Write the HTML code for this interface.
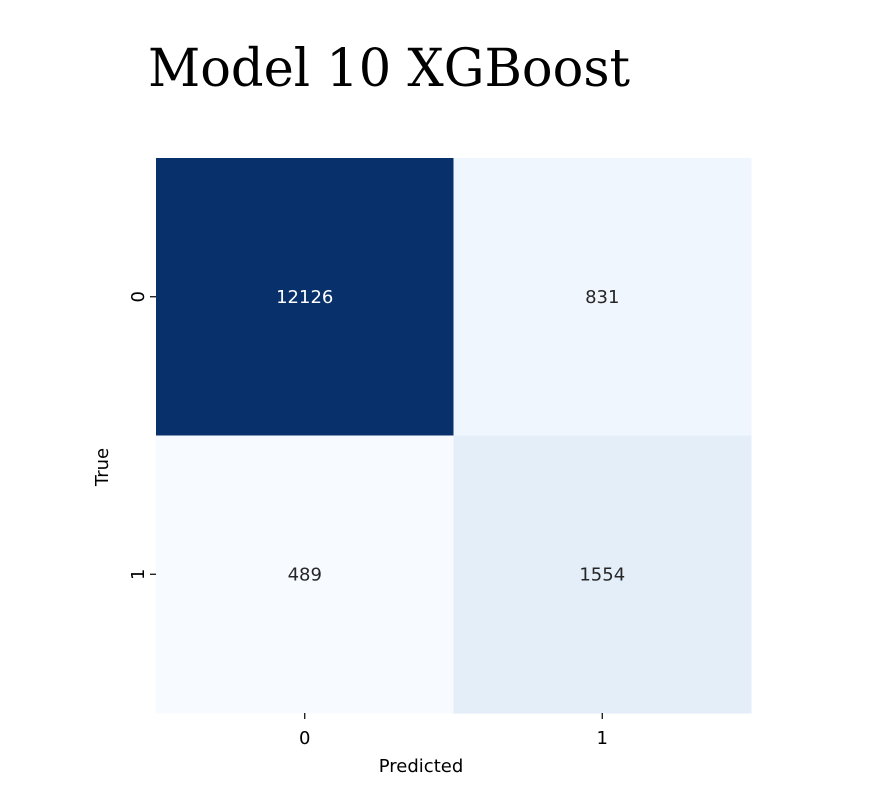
<!DOCTYPE html>
<html><head><meta charset="utf-8"><style>
body{margin:0;background:#fff;}
svg text{font-family:"DejaVu Sans","Liberation Sans",sans-serif;}
</style></head><body>
<svg width="869" height="794" xmlns="http://www.w3.org/2000/svg">
<text x="148" y="86" font-size="52" textLength="482" lengthAdjust="spacingAndGlyphs" style="font-family:'DejaVu Serif','Liberation Serif',serif" fill="#000">Model 10 XGBoost</text>
<g id="cells"></g>
<g id="axes"></g>
<text x="421" y="772" font-size="18" text-anchor="middle" fill="#000">Predicted</text>
<text transform="translate(108,467) rotate(-90)" font-size="18" text-anchor="middle" fill="#000">True</text>
</svg>
<script>
const xLabels=["0","1"];
const yLabels=["0","1"];
const values=[[12126,831],[489,1554]];
const cellColors=[["#08306b","#f0f6fd"],["#f7fbff","#e3eef9"]];
const textColors=[["#fff","#262626"],["#262626","#262626"]];
const X0=156,X1=751,Y0=158,Y1=713;
const cw=(X1-X0)/xLabels.length,ch=(Y1-Y0)/yLabels.length;
const xs=i=>X0+i*cw, ys=j=>Y0+j*ch;
const NS="http://www.w3.org/2000/svg";
const cells=document.getElementById('cells'),axes=document.getElementById('axes');
function mk(tag,attrs,parent){const e=document.createElementNS(NS,tag);for(const k in attrs)e.setAttribute(k,attrs[k]);parent.appendChild(e);return e;}
for(let j=0;j<yLabels.length;j++)for(let i=0;i<xLabels.length;i++){
 const r=mk('rect',{x:xs(i),y:ys(j),width:cw+0.5,height:ch+0.5,fill:cellColors[j][i]},cells);
 
 
 const t=mk('text',{x:xs(i)+cw/2,y:ys(j)+ch/2+6,'font-size':18,'text-anchor':'middle',fill:textColors[j][i]},cells);
 t.textContent=values[j][i];
 
 
}
xLabels.forEach((l,i)=>{
 const cx=xs(i)+cw/2;
 mk('line',{x1:cx,x2:cx,y1:Y1,y2:Y1+6,stroke:'#000','stroke-width':1.2},axes);
 const t=mk('text',{x:cx,y:Y1+31,'font-size':18,'text-anchor':'middle',fill:'#000'},axes);
 t.textContent=l;
 
 
});
yLabels.forEach((l,j)=>{
 const cy=ys(j)+ch/2;
 mk('line',{x1:X0-6,x2:X0,y1:cy,y2:cy,stroke:'#000','stroke-width':1.2},axes);
 const t=mk('text',{transform:`translate(${X0-12},${cy}) rotate(-90)`,'font-size':18,'text-anchor':'middle',fill:'#000'},axes);
 t.textContent=l;
 
 
});
</script>
</body></html>
